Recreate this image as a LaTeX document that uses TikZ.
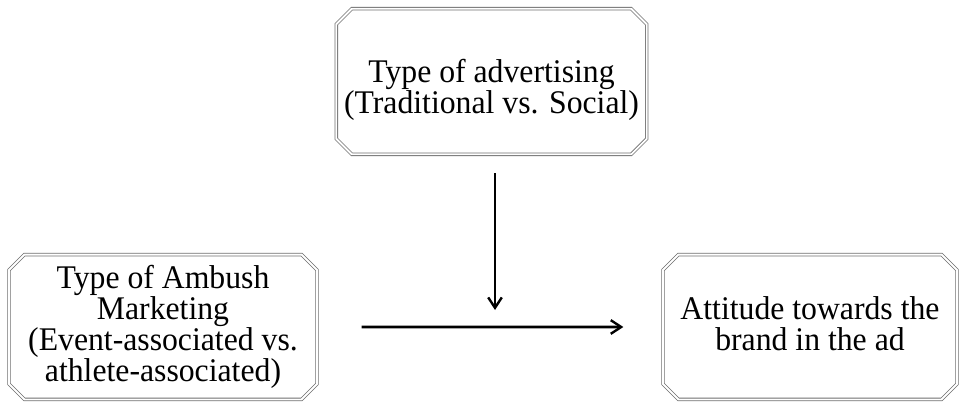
\documentclass[tikz,border=0pt]{standalone}
\usepackage{fontspec}
\setmainfont{Liberation Serif}[FakeStretch=0.96]
\usetikzlibrary{positioning,arrows.meta,shapes.misc}
\definecolor{marcoGris}{HTML}{6E6E6E}
\tikzset{
  cajaVar/.style={chamfered rectangle, chamfered rectangle xsep=5.5pt,
    chamfered rectangle ysep=5.5pt, draw=marcoGris, line width=0.55pt,
    double=white, double distance=1.3pt, inner sep=0pt, align=center,
    font=\fontsize{23.5}{22}\selectfont},
  flechaVar/.style={-{Straight Barb[length=2.6mm, width=3.4mm, line width=1.7pt]},
    line width=1.9pt, black},
}
\begin{document}
\begin{tikzpicture}[x=0.025cm, y=-0.025cm]
    \useasboundingbox (0,0) rectangle (961,403);
    \node[cajaVar, minimum width=7.6cm, minimum height=3.64cm] (adv) at (491.5,81.5) {\\[0.6ex]Type of advertising\\(Traditional vs. Social)};
    \node[cajaVar, minimum width=7.7cm, minimum height=3.62cm] (amb) at (163,327) {Type of Ambush\\Marketing\\(Event-associated vs.\\athlete-associated)};
    \node[cajaVar, minimum width=7.35cm, minimum height=3.62cm] (att) at (810,327) {Attitude towards the\\brand in the ad\\[-1.6ex]};

    \coordinate (vtop) at (495,173);
    \coordinate (vtip) at (495,310);
    \draw[flechaVar] (vtop) -- (vtip);
    \draw[flechaVar, shorten <=1.1cm, shorten >=0.98cm] (amb) -- (att);
  \end{tikzpicture}
\end{document}
